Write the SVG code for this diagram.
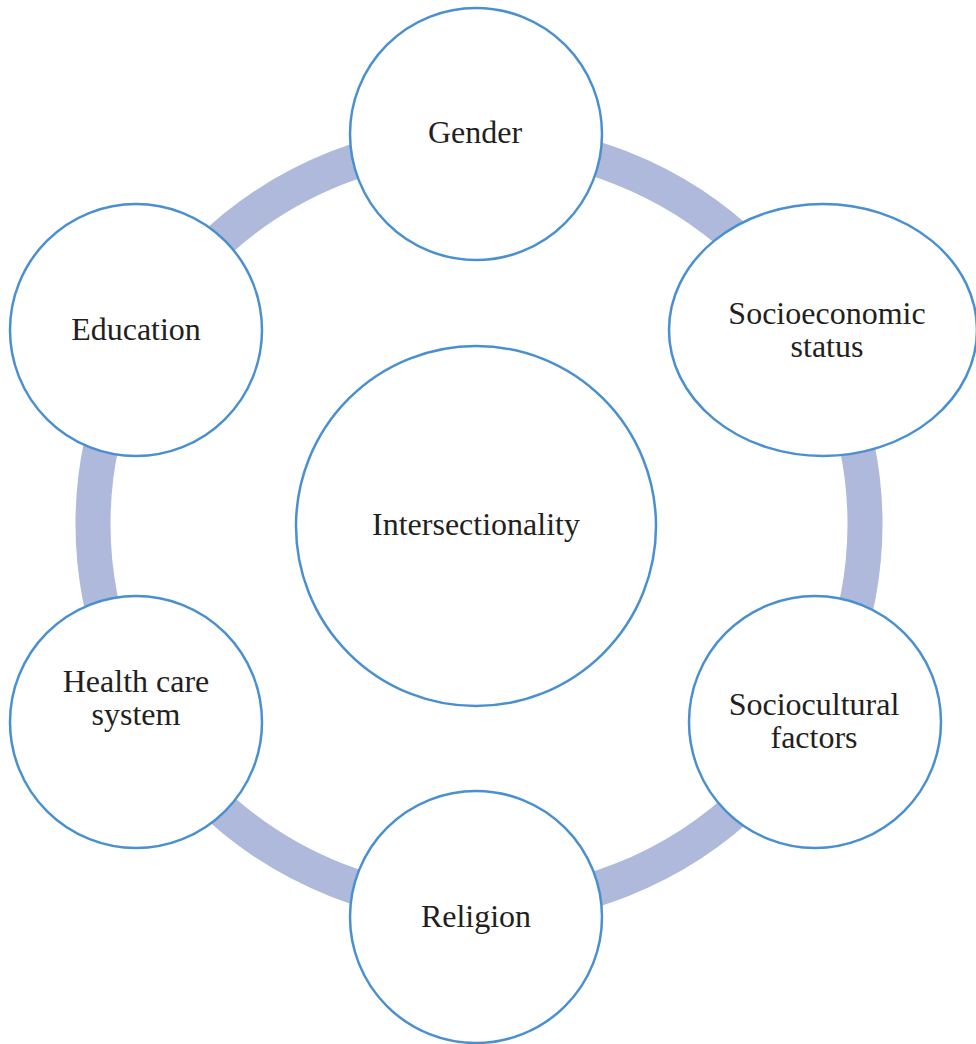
<svg xmlns="http://www.w3.org/2000/svg" width="976" height="1044" viewBox="0 0 976 1044">
  <style>
    .node { fill: #ffffff; stroke: #4a90d0; stroke-width: 2.5; }
    .label { font-family: "Liberation Serif", "Times New Roman", serif; font-size: 32px; fill: #231f20; text-anchor: middle; }
    .ring { fill: none; stroke: #aeb9dc; stroke-width: 35; }
  </style>
  <rect width="976" height="1044" fill="#ffffff"/>
  <g id="connectors">
    <ellipse class="ring" cx="479" cy="524" rx="386" ry="383"/>
  </g>
  <g id="intersectionality">
    <circle class="node" cx="476" cy="526" r="180"/>
    <text class="label" x="476" y="535">Intersectionality</text>
  </g>
  <g id="gender">
    <circle class="node" cx="476" cy="134" r="126"/>
    <text class="label" x="475" y="143">Gender</text>
  </g>
  <g id="socioeconomic-status">
    <ellipse class="node" cx="823" cy="330" rx="154" ry="126"/>
    <text class="label" x="827" y="324">Socioeconomic</text>
    <text class="label" x="827" y="357">status</text>
  </g>
  <g id="sociocultural-factors">
    <circle class="node" cx="815" cy="722" r="126"/>
    <text class="label" x="814" y="715">Sociocultural</text>
    <text class="label" x="814" y="748">factors</text>
  </g>
  <g id="religion">
    <circle class="node" cx="476" cy="917" r="126"/>
    <text class="label" x="476" y="927">Religion</text>
  </g>
  <g id="health-care-system">
    <circle class="node" cx="136" cy="722" r="126"/>
    <text class="label" x="136" y="692">Health care</text>
    <text class="label" x="136" y="725">system</text>
  </g>
  <g id="education">
    <circle class="node" cx="136" cy="330" r="126"/>
    <text class="label" x="136" y="340">Education</text>
  </g>
</svg>
